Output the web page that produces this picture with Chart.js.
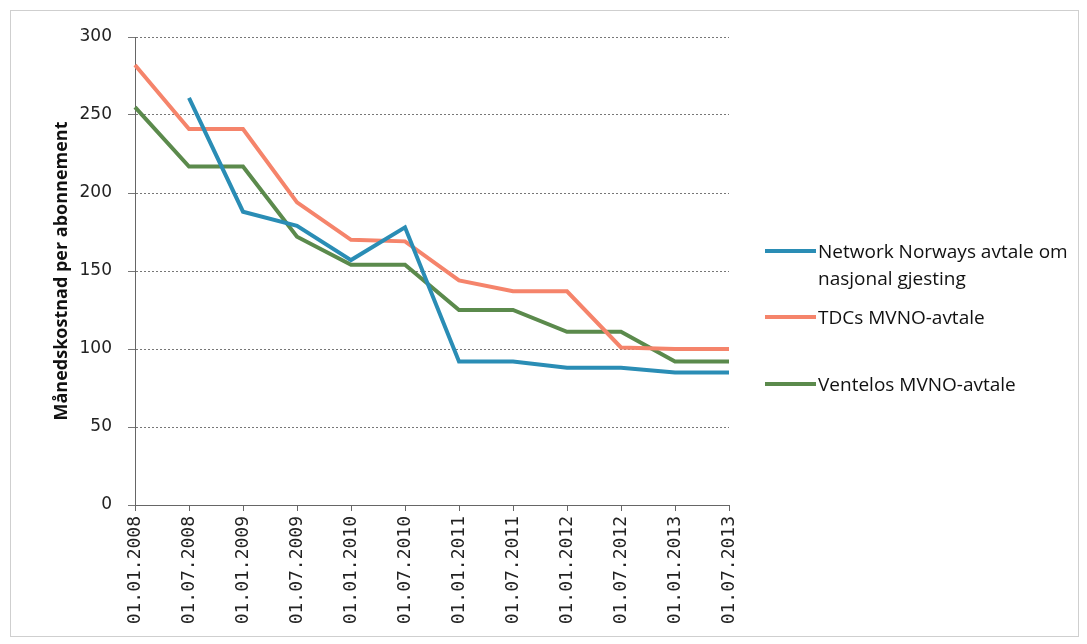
<!DOCTYPE html>
<html>
<head>
<meta charset="utf-8">
<script src="https://cdn.jsdelivr.net/npm/chart.js@4.4.1/dist/chart.umd.min.js"></script>
<style>
  html, body { margin: 0; padding: 0; background: #fff; }
  #wrap { width: 1087px; height: 644px; position: relative; }
</style>
</head>
<body>
<div id="wrap"><canvas id="kostnadChart" width="1087" height="644"></canvas></div>
<script>
// Datoer (halvårlig)
const datoer = ['01.01.2008', '01.07.2008', '01.01.2009', '01.07.2009', '01.01.2010', '01.07.2010',
  '01.01.2011', '01.07.2011', '01.01.2012', '01.07.2012', '01.01.2013', '01.07.2013'];

// Månedskostnad per abonnement
const networkNorway = [null, 261, 188, 179, 157, 178, 92, 92, 88, 88, 85, 85];
const tdc = [282, 241, 241, 194, 170, 169, 144, 137, 137, 101, 100, 100];
const ventelo = [255, 217, 217, 172, 154, 154, 125, 125, 111, 111, 92, 92];

const yTicks = [0, 50, 100, 150, 200, 250, 300];

const serieNavn = ['Network Norways avtale om nasjonal gjesting', 'TDCs MVNO-avtale', 'Ventelos MVNO-avtale'];
const farger = ['#2a8db5', '#f5846b', '#5b8a4c'];

// Forklaring tegnet til høyre for plottet
const forklaringPlugin = {
  id: 'forklaring',
  afterDraw(chart) {
    const ctx = chart.ctx;
    const linjeY = [251, 317, 384];
    ctx.save();
    ctx.font = '19px "Open Sans", sans-serif';
    ctx.textBaseline = 'middle';
    chart.data.datasets.forEach((ds, i) => {
      const y = linjeY[i];
      ctx.strokeStyle = ds.borderColor;
      ctx.lineWidth = 4;
      ctx.beginPath();
      ctx.moveTo(765, y);
      ctx.lineTo(816, y);
      ctx.stroke();
      // enkel linjebryting
      const ord = ds.label.split(' ');
      const linjer = [];
      let linje = '';
      ord.forEach(o => {
        const test = linje ? linje + ' ' + o : o;
        if (ctx.measureText(test).width > 262 && linje) {
          linjer.push(linje);
          linje = o;
        } else {
          linje = test;
        }
      });
      linjer.push(linje);
      ctx.fillStyle = '#111';
      linjer.forEach((l, j) => ctx.fillText(l, 818, y + 2 + j * 27));
    });
    // ramme rundt diagrammet
    ctx.strokeStyle = '#cfcfcf';
    ctx.lineWidth = 1;
    ctx.strokeRect(10.5, 10.5, 1068, 626);
    ctx.restore();
  }
};

const datasett = [networkNorway, tdc, ventelo].map((d, i) => ({
  label: serieNavn[i],
  data: d,
  borderColor: farger[i],
  backgroundColor: farger[i],
  borderWidth: 4,
  pointRadius: 0,
  tension: 0,
  spanGaps: false
}));

new Chart(document.getElementById('kostnadChart'), {
  type: 'line',
  data: { labels: datoer, datasets: datasett },
  options: {
    responsive: false,
    animation: false,
    layout: { padding: { top: 37, right: 358, bottom: 0, left: 51 } },
    plugins: {
      legend: { display: false },
      tooltip: { enabled: false }
    },
    scales: {
      x: {
        offset: false,
        afterFit: s => { s.height = 139; },
        grid: { drawOnChartArea: false, tickLength: 6, color: '#666' },
        border: { color: '#666', dash: [2, 2] },
        ticks: {
          maxRotation: 90, minRotation: 90, padding: 5, autoSkip: false,
          color: '#222', font: { family: '"DejaVu Sans Mono"', size: 18 }
        }
      },
      y: {
        min: 0, max: 300,
        afterFit: s => { s.width = 84; },
        afterBuildTicks: s => { s.ticks = yTicks.map(v => ({ value: v })); },
        grid: { color: '#777', tickLength: 7 },
        border: { color: '#666', dash: [2, 2] },
        ticks: {
          padding: 16, color: '#222',
          font: { family: '"DejaVu Sans"', size: 17 }
        },
        title: {
          display: true, text: 'Månedskostnad per abonnement', color: '#111',
          font: { family: '"Open Sans"', size: 18, weight: 'bold' },
          padding: { top: 0, bottom: 0 }
        }
      }
    }
  },
  plugins: [forklaringPlugin]
});
</script>
</body>
</html>
